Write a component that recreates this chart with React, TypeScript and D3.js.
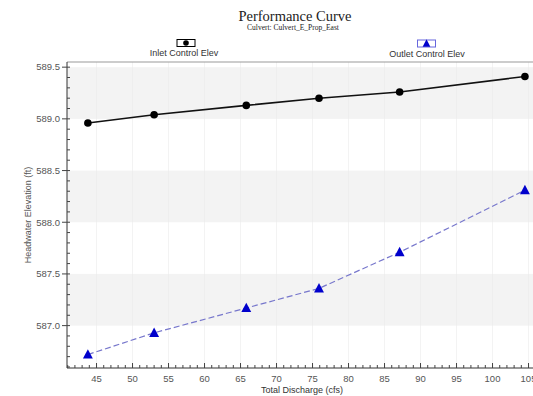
import React from "react";
import * as d3 from "d3";

const discharge = [43.8, 53.0, 65.8, 75.9, 87.1, 104.5];
const inletElev = [588.96, 589.04, 589.13, 589.2, 589.26, 589.41];
const outletElev = [586.72, 586.93, 587.17, 587.36, 587.71, 588.31];
const xTicks = [45, 50, 55, 60, 65, 70, 75, 80, 85, 90, 95, 100, 105];
const yTicks = [587.0, 587.5, 588.0, 588.5, 589.0, 589.5];
const bands: [number, number][] = [
  [587.0, 587.5],
  [588.0, 588.5],
  [589.0, 589.5],
];

const W = 533;
const H = 396;
const left = 67;
const top = 62;
const bottom = 368;

export default function App() {
  const x = d3.scaleLinear().domain([40.9, 106]).range([left, left + 65.1 * 7.2]);
  const y = d3.scaleLinear().domain([586.59, 589.55]).range([bottom, top]);
  const right = W + 5;

  const minorX = d3.range(41, 107, 1).filter((v) => x(v) <= W);
  const minorY = d3.range(5866, 5896, 1).map((v) => v / 10).filter((v) => y(v) >= top && y(v) <= bottom);

  const inletPts = discharge.map((d, i) => [x(d), y(inletElev[i])] as [number, number]);
  const outletPts = discharge.map((d, i) => [x(d), y(outletElev[i])] as [number, number]);
  const line = d3.line();

  const tri = (cx: number, cy: number, s: number) =>
    `M${cx},${cy - s * 0.6} L${cx + s * 0.55},${cy + s * 0.45} L${cx - s * 0.55},${cy + s * 0.45} Z`;

  const font = "'Liberation Sans', Arial, sans-serif";
  const serif = "'Liberation Serif', 'Times New Roman', serif";

  return (
    <svg
      width={W}
      height={H}
      style={{ position: "absolute", left: 0, top: 0, background: "#fff" }}
    >
      <rect x={0} y={0} width={W} height={H} fill="#fff" />
      {/* bands */}
      {bands.map(([a, b], i) => (
        <rect key={i} x={left} y={y(b)} width={right - left} height={y(a) - y(b)} fill="#f3f3f3" />
      ))}
      {/* vertical grid */}
      {xTicks.map((t) => (
        <line key={t} x1={x(t)} x2={x(t)} y1={top} y2={bottom} stroke="#ececec" strokeWidth={1} opacity={0.6} />
      ))}
      {/* frame top */}
      <line x1={left} x2={right} y1={top} y2={top} stroke="#999" strokeWidth={1} />
      {/* axes */}
      <line x1={left} x2={left} y1={top} y2={bottom} stroke="#333" strokeWidth={1} />
      <line x1={left} x2={right} y1={bottom} y2={bottom} stroke="#333" strokeWidth={1} />
      {/* y minor ticks */}
      {minorY.map((v) => (
        <line key={v} x1={left} x2={left + 3} y1={y(v)} y2={y(v)} stroke="#444" />
      ))}
      {/* y major ticks */}
      {yTicks.map((t) => (
        <g key={t}>
          <line x1={left - 5} x2={left} y1={y(t)} y2={y(t)} stroke="#444" />
          <text x={left - 7} y={y(t)} dy="0.35em" textAnchor="end" fontFamily={font} fontSize={9.5} fill="#555">
            {t.toFixed(1)}
          </text>
        </g>
      ))}
      {/* x minor ticks */}
      {minorX.map((v) => (
        <line key={v} x1={x(v)} x2={x(v)} y1={bottom} y2={bottom - 3} stroke="#444" />
      ))}
      {xTicks.map((t) => (
        <g key={t}>
          <line x1={x(t)} x2={x(t)} y1={bottom} y2={bottom - 5} stroke="#444" />
          <text x={x(t)} y={382} textAnchor="middle" fontFamily={font} fontSize={9.5} fill="#555">
            {t}
          </text>
        </g>
      ))}
      {/* series */}
      <path d={line(inletPts) || ""} fill="none" stroke="#111" strokeWidth={1.6} />
      {inletPts.map(([cx, cy], i) => (
        <circle key={i} cx={cx} cy={cy} r={3.8} fill="#000" />
      ))}
      <path d={line(outletPts) || ""} fill="none" stroke="#7777cc" strokeWidth={1.2} strokeDasharray="6,3" />
      {outletPts.map(([cx, cy], i) => (
        <path key={i} d={tri(cx, cy, 9)} fill="#0000cc" />
      ))}
      {/* titles */}
      <text x={295} y={21} textAnchor="middle" fontFamily={serif} fontSize={14.5} fill="#222">
        Performance Curve
      </text>
      <text x={293} y={30} textAnchor="middle" fontFamily={serif} fontSize={7.5} fill="#222">
        Culvert: Culvert_E_Prop_East
      </text>
      {/* legend */}
      <rect x={177} y={39.5} width={18} height={7} fill="#fff" stroke="#000" strokeWidth={1} />
      <circle cx={186} cy={43} r={2.8} fill="#000" />
      <text x={184} y={56} textAnchor="middle" fontFamily={font} fontSize={9} fill="#333">
        Inlet Control Elev
      </text>
      <rect x={417.5} y={40} width={18} height={7} fill="#fff" stroke="#6666dd" strokeWidth={1} />
      <path d={tri(426.5, 43.5, 7)} fill="#0000cc" />
      <text x={427} y={57} textAnchor="middle" fontFamily={font} fontSize={9} fill="#333">
        Outlet Control Elev
      </text>
      {/* axis titles */}
      <text x={302} y={393} textAnchor="middle" fontFamily={font} fontSize={9} fill="#333">
        Total Discharge (cfs)
      </text>
      <text
        transform={`translate(31,${(top + bottom) / 2}) rotate(-90)`}
        textAnchor="middle"
        fontFamily={font}
        fontSize={9}
        fill="#555"
      >
        Headwater Elevation (ft)
      </text>
    </svg>
  );
}
